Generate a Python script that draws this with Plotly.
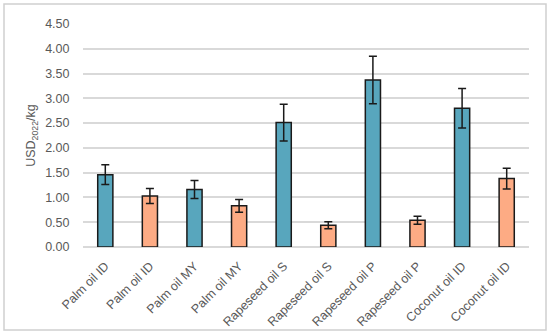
import plotly.graph_objects as go

categories = ["Palm oil ID", "Palm oil ID", "Palm oil MY", "Palm oil MY",
              "Rapeseed oil S", "Rapeseed oil S", "Rapeseed oil P", "Rapeseed oil P",
              "Coconut oil ID", "Coconut oil ID"]
values = [1.46, 1.03, 1.16, 0.83, 2.51, 0.44, 3.37, 0.54, 2.80, 1.38]
errors = [0.20, 0.15, 0.18, 0.13, 0.37, 0.07, 0.48, 0.08, 0.40, 0.21]
y_ticks = [0, 0.5, 1.0, 1.5, 2.0, 2.5, 3.0, 3.5, 4.0, 4.5]
y_ticklabels = [f"{v:.2f}" for v in y_ticks]

TEAL = "#58a6bd"
ORANGE = "#fdab84"
FONT = "Liberation Sans"

xs = list(range(len(categories)))
colors = [TEAL if i % 2 == 0 else ORANGE for i in xs]

fig = go.Figure()
fig.add_trace(go.Bar(
    x=xs, y=values,
    marker=dict(color=colors, line=dict(color="#1a1a1a", width=1.5)),
    error_y=dict(type="data", array=errors, visible=True, color="#1a1a1a",
                 thickness=1.5, width=4),
    width=0.34,
))

fig.update_layout(
    width=550, height=334,
    margin=dict(l=83, r=21, t=24, b=87),
    plot_bgcolor="white", paper_bgcolor="white",
    showlegend=False,
    font=dict(family=FONT, size=12, color="#595959"),
    xaxis=dict(
        tickmode="array", tickvals=xs, ticktext=categories,
        tickangle=-45, range=[-0.5, len(categories) - 0.5],
        showgrid=False, showline=False, zeroline=False, automargin=False,
        ticks="outside", ticklen=6, tickcolor="rgba(0,0,0,0)",
        tickfont=dict(size=12.5, color="#595959"),
    ),
    yaxis=dict(
        range=[0, 4.5], tickmode="array", tickvals=y_ticks, ticktext=y_ticklabels,
        showgrid=True, gridcolor="#d9d9d9", gridwidth=1.5, automargin=False,
        zeroline=True, zerolinecolor="#d9d9d9", zerolinewidth=1.5,
        showline=False, ticks="outside", ticklen=10, tickcolor="rgba(0,0,0,0)",
        tickfont=dict(size=12.5, color="#595959"),
        title=dict(text="USD<sub>2022</sub>/kg", standoff=6,
                   font=dict(size=12.5, color="#595959")),
    ),
    shapes=[dict(type="rect", xref="paper", yref="paper",
                 x0=(4 - 83) / 446, x1=(546 - 83) / 446,
                 y0=(247 - 330) / 223, y1=(247 - 4) / 223,
                 line=dict(color="#d0d0d0", width=1.5), fillcolor="rgba(0,0,0,0)",
                 layer="above")],
)

fig.write_html("out.html", config={"displayModeBar": False},
               post_script="document.body.style.margin='0px';document.body.style.overflow='hidden';")
